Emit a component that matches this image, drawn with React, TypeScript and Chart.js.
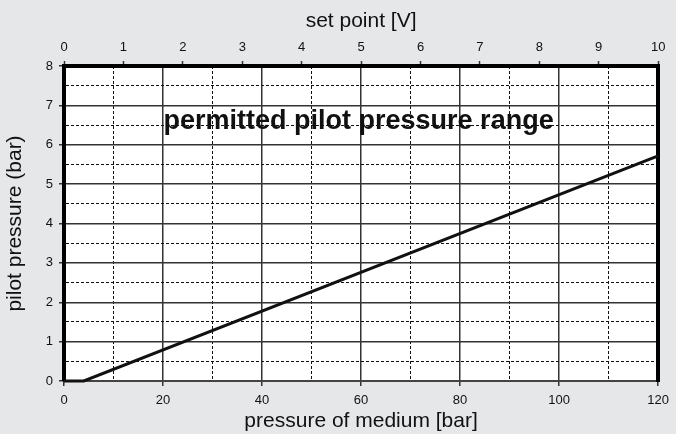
import React, { useEffect, useRef } from 'react';
import { Chart, registerables } from 'chart.js';

Chart.register(...registerables);

// ---- data ----
const pressureOfMedium = [0, 4, 120]; // bar
const pilotPressure = [0, 0, 5.72]; // bar

const xMin = 0;
const xMax = 120;
const xGridStep = 10;
const xLabelStep = 20;

const setPointMin = 0;
const setPointMax = 10;
const setPointStep = 1;

const yMin = 0;
const yMax = 8;
const yGridStep = 0.5;

const xTitle = 'pressure of medium [bar]';
const topTitle = 'set point [V]';
const yTitle = 'pilot pressure (bar)';
const regionLabel = 'permitted pilot pressure range';
const regionLabelAt = [59.5, 6.39]; // [pressure of medium, pilot pressure]

const FONT = '"Liberation Sans", Arial, Helvetica, sans-serif';
const BG = '#e6e7e8';
const CLEAR = 'rgba(0,0,0,0)';

const isMajorX = (v: number) => Math.abs(v % xLabelStep) < 1e-9;
const isMajorY = (v: number) => Math.abs(v - Math.round(v)) < 1e-9;

const bgPlugin = {
  id: 'bgPlugin',
  beforeDraw(chart: any) {
    const { ctx, chartArea: a } = chart;
    ctx.save();
    ctx.fillStyle = BG;
    ctx.fillRect(0, 0, chart.width, chart.height);
    ctx.fillStyle = '#ffffff';
    ctx.fillRect(a.left, a.top, a.right - a.left, a.bottom - a.top);
    ctx.restore();
  },
  afterDatasetsDraw(chart: any) {
    const { ctx } = chart;
    const xs = chart.scales.x;
    const ys = chart.scales.y;
    ctx.save();
    ctx.font = `bold 27px ${FONT}`;
    ctx.fillStyle = '#111';
    ctx.textAlign = 'center';
    ctx.textBaseline = 'alphabetic';
    ctx.fillText(regionLabel, xs.getPixelForValue(regionLabelAt[0]), ys.getPixelForValue(regionLabelAt[1]));
    ctx.restore();
  },
};

export default function App() {
  const ref = useRef<HTMLCanvasElement | null>(null);

  useEffect(() => {
    if (!ref.current) return;
    const points = pressureOfMedium.map((x, i) => ({ x, y: pilotPressure[i] }));
    const chart = new Chart(ref.current, {
      type: 'line',
      data: {
        datasets: [
          {
            data: points,
            borderColor: '#111',
            borderWidth: 3,
            pointRadius: 0,
            tension: 0,
            clip: false as any,
            xAxisID: 'x',
            yAxisID: 'y',
          },
        ],
      },
      plugins: [bgPlugin],
      options: {
        responsive: false,
        animation: false,
        events: [],
        layout: { padding: 0 },
        plugins: { legend: { display: false }, tooltip: { enabled: false } },
        scales: {
          x: {
            type: 'linear',
            position: 'bottom',
            min: xMin,
            max: xMax,
            afterFit: (s: any) => { s.height = 53; },
            ticks: {
              stepSize: xGridStep,
              autoSkip: false,
              maxRotation: 0,
              padding: 7,
              color: '#111',
              font: { family: FONT, size: 13 },
              callback: (v: any) => (isMajorX(Number(v)) ? String(v) : ''),
            },
            grid: {
              drawOnChartArea: true,
              color: (c: any) => {
                if (!c.tick) return '#333';
                const v = c.tick.value;
                if (v === xMin || v === xMax) return CLEAR;
                return isMajorX(v) ? '#333' : '#111';
              },
              lineWidth: (c: any) => (c.tick && !isMajorX(c.tick.value) ? 1 : 1.5),
              tickLength: 5,
              tickWidth: 1.5,
              tickColor: (c: any) => (c.tick && isMajorX(c.tick.value) ? '#333' : CLEAR),
            },
            border: {
              display: true,
              width: 2,
              color: '#444',
              dash: (c: any) => (c.tick && !isMajorX(c.tick.value) ? [3, 2] : []),
            } as any,
            title: {
              display: true,
              text: xTitle,
              color: '#111',
              font: { family: FONT, size: 21 },
              padding: { top: 0, bottom: 0 },
            },
          },
          x2: {
            type: 'linear',
            position: 'top',
            min: setPointMin,
            max: setPointMax,
            afterFit: (s: any) => { s.height = 66; },
            ticks: {
              stepSize: setPointStep,
              autoSkip: false,
              maxRotation: 0,
              padding: 6,
              color: '#111',
              font: { family: FONT, size: 13 },
            },
            grid: {
              drawOnChartArea: false,
              tickLength: 5,
              tickWidth: 1.5,
              tickColor: '#333',
            },
            border: { display: true, width: 4, color: '#000' },
            title: {
              display: true,
              text: topTitle,
              color: '#111',
              font: { family: FONT, size: 21 },
              padding: { top: 9, bottom: 0 },
            },
          },
          y: {
            type: 'linear',
            position: 'left',
            min: yMin,
            max: yMax,
            afterFit: (s: any) => { s.width = 64; },
            ticks: {
              stepSize: yGridStep,
              autoSkip: false,
              padding: 6,
              color: '#111',
              font: { family: FONT, size: 13 },
              callback: (v: any) => (isMajorY(Number(v)) ? String(v) : ''),
            },
            grid: {
              drawOnChartArea: true,
              color: (c: any) => {
                if (!c.tick) return '#333';
                const v = c.tick.value;
                if (v === yMin || v === yMax) return CLEAR;
                return isMajorY(v) ? '#333' : '#111';
              },
              lineWidth: (c: any) => (c.tick && !isMajorY(c.tick.value) ? 1 : 1.5),
              tickLength: 5,
              tickWidth: 1.5,
              tickColor: (c: any) => (c.tick && isMajorY(c.tick.value) ? '#333' : CLEAR),
            },
            border: {
              display: true,
              width: 4,
              color: '#000',
              dash: (c: any) => (c.tick && !isMajorY(c.tick.value) ? [3, 2] : []),
            } as any,
            title: {
              display: true,
              text: yTitle,
              color: '#111',
              font: { family: FONT, size: 21 },
              padding: { top: 3, bottom: 0 },
            },
          },
          yR: {
            type: 'linear',
            position: 'right',
            min: yMin,
            max: yMax,
            afterFit: (s: any) => { s.width = 13; },
            ticks: { display: false },
            grid: { drawOnChartArea: false, drawTicks: false },
            border: { display: true, width: 4, color: '#000' },
          },
        },
      } as any,
    });
    return () => chart.destroy();
  }, []);

  return (
    <canvas
      ref={ref}
      width={676}
      height={434}
      style={{ position: 'absolute', left: 0, top: 0, display: 'block', width: 676, height: 434 }}
    />
  );
}
